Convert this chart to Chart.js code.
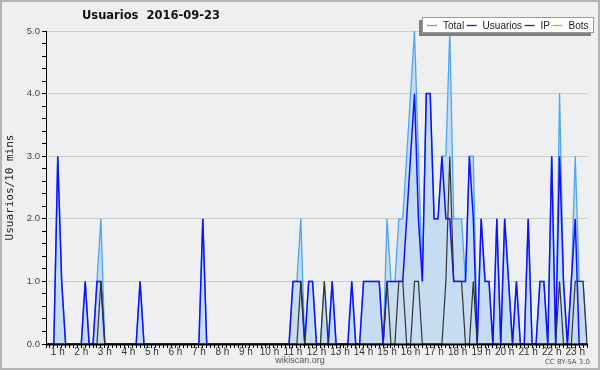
<!DOCTYPE html>
<html>
<head>
<meta charset="utf-8">
<script src="https://cdn.jsdelivr.net/npm/chart.js@4.4.1/dist/chart.umd.min.js"></script>
<style>
  html, body { margin: 0; padding: 0; background: #efefef; }
  canvas { display: block; }
</style>
</head>
<body>
<canvas id="chart" width="600" height="370"></canvas>
<script>
// 10-minute slots from 00:30 to 23:30
const startMinutes = 30;
const stepMinutes = 10;

const hourTicks = ['1 h', '2 h', '3 h', '4 h', '5 h', '6 h', '7 h', '8 h', '9 h', '10 h', '11 h', '12 h',
  '13 h', '14 h', '15 h', '16 h', '17 h', '18 h', '19 h', '20 h', '21 h', '22 h', '23 h'];

const totalValues = [
  0, 0, 0, 3, 1, 0, 0, 0, 0, 0, 1, 0,
  0, 1, 2, 0, 0, 0, 0, 0, 0, 0, 0, 0,
  1, 0, 0, 0, 0, 0, 0, 0, 0, 0, 0, 0,
  0, 0, 0, 0, 2, 0, 0, 0, 0, 0, 0, 0,
  0, 0, 0, 0, 0, 0, 0, 0, 0, 0, 0, 0,
  0, 0, 0, 1, 1, 2, 0, 1, 1, 0, 0, 1,
  0, 1, 0, 0, 0, 0, 1, 0, 0, 1, 1, 1,
  1, 1, 0, 2, 1, 1, 2, 2, 3, 4, 5, 3,
  1, 4, 4, 2, 2, 3, 3, 5, 2, 2, 2, 1,
  3, 3, 0, 2, 1, 1, 0, 2, 0, 2, 1, 0,
  1, 0, 0, 2, 0, 0, 1, 1, 0, 3, 0, 4,
  1, 0, 1, 3, 1, 1, 0
];

const usuariosValues = [
  0, 0, 0, 3, 1, 0, 0, 0, 0, 0, 1, 0,
  0, 1, 1, 0, 0, 0, 0, 0, 0, 0, 0, 0,
  1, 0, 0, 0, 0, 0, 0, 0, 0, 0, 0, 0,
  0, 0, 0, 0, 2, 0, 0, 0, 0, 0, 0, 0,
  0, 0, 0, 0, 0, 0, 0, 0, 0, 0, 0, 0,
  0, 0, 0, 1, 1, 1, 0, 1, 1, 0, 0, 0,
  0, 1, 0, 0, 0, 0, 1, 0, 0, 1, 1, 1,
  1, 1, 0, 1, 1, 1, 1, 1, 2, 3, 4, 2,
  1, 4, 4, 2, 2, 3, 2, 2, 1, 1, 1, 1,
  3, 2, 0, 2, 1, 1, 0, 2, 0, 2, 1, 0,
  1, 0, 0, 2, 0, 0, 1, 1, 0, 3, 0, 3,
  1, 0, 1, 2, 0, 0, 0
];

const ipValues = [
  0, 0, 0, 0, 0, 0, 0, 0, 0, 0, 0, 0,
  0, 0, 1, 0, 0, 0, 0, 0, 0, 0, 0, 0,
  0, 0, 0, 0, 0, 0, 0, 0, 0, 0, 0, 0,
  0, 0, 0, 0, 0, 0, 0, 0, 0, 0, 0, 0,
  0, 0, 0, 0, 0, 0, 0, 0, 0, 0, 0, 0,
  0, 0, 0, 0, 0, 1, 0, 0, 0, 0, 0, 1,
  0, 0, 0, 0, 0, 0, 0, 0, 0, 0, 0, 0,
  0, 0, 0, 1, 0, 0, 1, 1, 0, 0, 1, 1,
  0, 0, 0, 0, 0, 0, 1, 3, 1, 1, 1, 0,
  0, 1, 0, 0, 0, 0, 0, 0, 0, 0, 0, 0,
  0, 0, 0, 0, 0, 0, 0, 0, 0, 0, 0, 1,
  0, 0, 0, 1, 1, 1, 0
];

const botsValues = totalValues.map(() => 0);

const slotLabels = totalValues.map((_, i) => {
  const m = startMinutes + i * stepMinutes;
  const h = Math.floor(m / 60), mm = m % 60;
  return String(h).padStart(2, '0') + ':' + String(mm).padStart(2, '0');
});

const bgPlugin = {
  id: 'bg',
  beforeDraw(chart) {
    const { ctx, width, height } = chart;
    ctx.save();
    ctx.fillStyle = '#efefef';
    ctx.fillRect(0, 0, width, height);
    const a = chart.chartArea;
    ctx.fillStyle = '#eeeff1';
    ctx.fillRect(a.left, a.top, a.right - a.left, a.bottom - a.top);
    ctx.strokeStyle = '#b4b4b4';
    ctx.lineWidth = 2;
    ctx.strokeRect(1, 1, width - 2, height - 2);
    ctx.restore();
  }
};

const overlayPlugin = {
  id: 'overlay',
  afterDatasetsDraw(chart) {
    const { ctx } = chart;
    const a = chart.chartArea;
    ctx.save();
    ctx.strokeStyle = '#000';
    ctx.lineWidth = 1;
    ctx.beginPath();
    ctx.moveTo(a.left + 0.5, a.top);
    ctx.lineTo(a.left + 0.5, a.bottom);
    ctx.stroke();
    ctx.lineWidth = 2;
    ctx.beginPath();
    ctx.moveTo(a.left, a.bottom + 0.5);
    ctx.lineTo(a.right + 1, a.bottom + 0.5);
    ctx.stroke();
    ctx.restore();
  },
  afterDraw(chart) {
    const { ctx } = chart;
    ctx.save();
    // title
    ctx.fillStyle = '#111';
    ctx.font = 'bold 11.5px "DejaVu Sans"';
    ctx.textAlign = 'center';
    ctx.textBaseline = 'middle';
    ctx.fillText('Usuarios  2016-09-23', 151, 16);

    // footer texts
    ctx.fillStyle = '#555';
    ctx.font = '9px "Liberation Sans"';
    ctx.fillText('wikiscan.org', 300, 361);
    ctx.font = '7px "DejaVu Sans"';
    ctx.textAlign = 'right';
    ctx.fillText('CC BY-SA 3.0', 590, 362);

    // legend box with shadow
    const bx = 422, by = 17, bw = 172, bh = 16;
    ctx.fillStyle = '#808080';
    ctx.fillRect(bx - 3, by + 3, bw, bh);
    ctx.fillStyle = '#fff';
    ctx.fillRect(bx, by, bw, bh);
    ctx.strokeStyle = '#999';
    ctx.lineWidth = 1;
    ctx.strokeRect(bx + 0.5, by + 0.5, bw - 1, bh - 1);

    ctx.font = '10px "Liberation Sans"';
    ctx.textAlign = 'left';
    ctx.textBaseline = 'middle';
    let x = bx + 5;
    const y = by + bh / 2;
    chart.data.datasets.forEach(ds => {
      ctx.strokeStyle = ds.borderColor;
      ctx.lineWidth = 1.3;
      ctx.beginPath();
      ctx.moveTo(x, y + 0.5);
      ctx.lineTo(x + 10, y + 0.5);
      ctx.stroke();
      ctx.fillStyle = '#222';
      ctx.fillText(ds.label, x + 16, y + 1);
      x += 16 + ctx.measureText(ds.label).width + 2.5;
    });
    ctx.restore();
  }
};

new Chart(document.getElementById('chart'), {
  type: 'line',
  data: {
    labels: slotLabels,
    datasets: [
      {
        label: 'Total',
        data: totalValues,
        borderColor: '#4ea6f2',
        backgroundColor: '#c6dcf0',
        borderWidth: 1.3,
        fill: 'origin',
        order: 4
      },
      {
        label: 'Usuarios',
        data: usuariosValues,
        borderColor: '#1010ff',
        borderWidth: 1.5,
        fill: false,
        order: 2
      },
      {
        label: 'IP',
        data: ipValues,
        borderColor: '#333333',
        borderWidth: 1.2,
        fill: false,
        order: 1
      },
      {
        label: 'Bots',
        data: botsValues,
        borderColor: '#ff9900',
        borderWidth: 1.2,
        fill: false,
        order: 3
      }
    ]
  },
  options: {
    responsive: false,
    animation: false,
    devicePixelRatio: 1,
    layout: { padding: { top: 31, right: 13, left: 0, bottom: 0 } },
    elements: {
      line: { tension: 0 },
      point: { radius: 0, hoverRadius: 0 }
    },
    plugins: {
      legend: { display: false },
      title: { display: false },
      tooltip: { enabled: false }
    },
    scales: {
      x: {
        type: 'category',
        offset: false,
        afterFit: s => { s.height = 26; },
        border: { display: false },
        grid: {
          drawOnChartArea: false,
          drawTicks: true,
          tickLength: 4,
          tickColor: '#000'
        },
        ticks: {
          autoSkip: false,
          maxRotation: 0,
          minRotation: 0,
          padding: -2,
          color: '#333',
          font: { family: 'Liberation Sans', size: 10 },
          callback: function(value, index) {
            const k = index - 3;
            if (k >= 0 && k % 6 === 0) return hourTicks[k / 6] || '';
            return '';
          }
        }
      },
      y: {
        min: 0,
        max: 5,
        afterFit: s => { s.width = 46; },
        border: { display: false },
        grid: {
          color: c => (Math.abs(c.tick.value - Math.round(c.tick.value)) < 1e-6 ? '#cccccc' : 'rgba(0,0,0,0)'),
          tickColor: '#000',
          tickLength: 4,
          lineWidth: 1
        },
        ticks: {
          stepSize: 0.2,
          autoSkip: false,
          padding: 2,
          color: '#444',
          font: { family: 'Liberation Sans', size: 9.5 },
          callback: v => (Math.abs(v - Math.round(v)) < 1e-6 ? v.toFixed(1) : '')
        },
        title: {
          display: true,
          text: 'Usuarios/10 mins',
          color: '#222',
          padding: { top: 4, bottom: 0 },
          font: { family: 'DejaVu Sans Mono', size: 11 }
        }
      }
    }
  },
  plugins: [bgPlugin, overlayPlugin]
});
</script>
</body>
</html>
